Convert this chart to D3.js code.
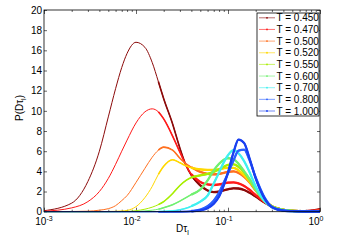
<!DOCTYPE html>
<html>
<head>
<meta charset="utf-8">
<script src="https://cdn.jsdelivr.net/npm/d3@7"></script>
<style>
body{margin:0;background:#fff}
text{font-family:"Liberation Sans",Arial,sans-serif;fill:#000}
</style>
</head>
<body>
<svg id="chart" width="341" height="251"></svg>
<script>
// D tau_l sample positions
const dtau = [0.001,0.002,0.003,0.004,0.005,0.006,0.007,0.008,0.01,0.0125,0.015,0.0175,0.02,0.025,0.03,0.035,0.04,0.05,0.06,0.07,0.08,0.09,0.1,0.115,0.13,0.15,0.17,0.2,0.25,0.3,0.4,0.5,0.7,0.85,1.0]

// P(D tau_l) for each temperature
const t450 = [0.1,0.85,3.0,6.0,9.4,12.2,14.3,15.7,16.8,16.3,14.8,12.9,11.2,8.7,6.3,4.6,3.6,2.6,2.1,1.95,2.0,2.12,2.22,2.32,2.3,2.15,1.9,1.5,0.9,0.5,0.18,0.08,0.05,0.12,0.25]
const t470 = [0.05,0.38,1.0,2.0,3.3,4.7,6.0,7.1,8.8,9.9,10.2,9.9,9.2,7.5,5.9,4.6,3.7,2.95,2.7,2.65,2.7,2.8,2.88,2.9,2.8,2.55,2.2,1.65,0.95,0.5,0.18,0.08,0.05,0.1,0.2]
const t500 = [0,0.02,0.05,0.15,0.3,0.6,1.1,1.6,2.9,4.3,5.4,6.1,6.4,6.1,5.3,4.75,4.4,3.95,3.75,3.7,3.75,3.85,3.95,4.0,3.85,3.45,2.95,2.1,1.1,0.55,0.18,0.08,0.04,0.06,0.1]
const t520 = [0,0,0,0.01,0.02,0.04,0.07,0.13,0.5,1.4,2.5,3.7,4.5,5.15,4.85,4.55,4.35,4.2,4.15,4.15,4.2,4.3,4.35,4.35,4.1,3.6,3.05,2.15,1.1,0.55,0.18,0.08,0.04,0.04,0.05]
const t550 = [0,0,0,0,0,0.01,0.02,0.03,0.1,0.25,0.45,0.7,1.0,1.8,2.6,3.1,3.4,3.6,3.75,3.95,4.2,4.45,4.65,4.7,4.45,3.9,3.2,2.2,1.1,0.55,0.18,0.08,0.04,0.04,0.05]
const t600 = [0,0,0,0,0,0,0,0.01,0.03,0.08,0.15,0.25,0.4,0.7,1.05,1.4,1.7,2.2,3.1,4.1,4.75,5.15,5.3,5.2,4.75,4.0,3.3,2.2,1.05,0.5,0.17,0.07,0.03,0.03,0.03]
const t700 = [0,0,0,0,0,0,0,0,0,0,0.01,0.02,0.03,0.08,0.2,0.35,0.55,1.0,1.6,2.8,3.9,4.9,5.6,6.1,5.8,5.0,4.0,2.5,1.05,0.45,0.14,0.06,0.02,0.02,0.02]
const t800 = [0,0,0,0,0,0,0,0,0,0,0,0,0,0,0.01,0.02,0.05,0.2,0.55,1.1,1.9,2.9,3.8,5.1,6.05,6.15,5.2,3.4,1.4,0.5,0.12,0.05,0.02,0.02,0.02]
const t1000 = [0,0,0,0,0,0,0,0,0,0,0,0,0,0,0,0.01,0.03,0.12,0.35,0.8,1.5,2.6,3.9,5.9,7.15,6.8,5.4,3.3,1.3,0.45,0.1,0.05,0.02,0.02,0.02]

const temps = ["0.450","0.470","0.500","0.520","0.550","0.600","0.700","0.800","1.000"]
const colors = ["#8c0a0a","#ff1a1a","#ff7020","#ffd800","#a8ee00","#70f070","#40f0f0","#2a60ff","#1a40f0"]
const allSeries = [t450,t470,t500,t520,t550,t600,t700,t800,t1000]

const yTicks = [0,2,4,6,8,10,12,14,16,18,20]
const xMajor = [0.001,0.01,0.1,1]
const xExp = ["-3","-2","-1","0"]

const svg = d3.select("#chart")
const dims = {left:44, right:320, top:10, bottom:211.7}

const x = d3.scaleLog().domain([1e-3,1]).range([dims.left,dims.right])
const y = d3.scaleLinear().domain([0,20]).range([dims.bottom,dims.top])

// axes, ticks pointing inward like matlab
svg.append("g").attr("transform",`translate(${dims.left},0)`)
  .call(d3.axisLeft(y).tickValues(yTicks).tickSizeInner(-3).tickSizeOuter(0).tickPadding(2))
  .call(g=>g.select(".domain").remove())
  .call(g=>g.selectAll("text").style("font-size","10px").style("font-family","'Liberation Sans',Arial,sans-serif"))
svg.append("g").attr("transform",`translate(${dims.right},0)`)
  .call(d3.axisRight(y).tickValues(yTicks).tickSizeInner(-3).tickSizeOuter(0).tickFormat(""))
  .call(g=>g.select(".domain").remove())

let minor = x.ticks().filter(v=> !xMajor.some(m=> Math.abs(m-v)<1e-9))
let xAxes = [
  [d3.axisBottom, dims.bottom],
  [d3.axisTop, dims.top]
]
for (let [ax,pos] of xAxes) {
  svg.append("g").attr("transform",`translate(0,${pos})`)
    .call(ax(x).tickValues(xMajor).tickSizeInner(-4).tickSizeOuter(0).tickFormat(""))
    .call(g=>g.select(".domain").remove())
  svg.append("g").attr("transform",`translate(0,${pos})`)
    .call(ax(x).tickValues(minor).tickSizeInner(-2).tickSizeOuter(0).tickFormat(""))
    .call(g=>g.select(".domain").remove())
}
svg.selectAll(".tick line").attr("stroke","#000").attr("stroke-width",0.6)

// x tick labels 10^n
let xl = svg.append("g").selectAll("text").data(xMajor).join("text")
  .attr("x",(d,i)=> x(d) - (i==0 ? 0 : 4))
  .attr("y",225)
  .attr("text-anchor","middle")
  .style("font-size","10px")
xl.append("tspan").text("10")
xl.append("tspan").attr("dy",-4).style("font-size","7px").text((d,i)=>xExp[i])

// curves
let line = d3.line().x(d=>x(d[0])).y(d=>y(d[1])).curve(d3.curveMonotoneX)
let plot = svg.append("g")
allSeries.forEach((vals,i)=>{
  let pts = dtau.map((d,k)=>[d,vals[k]])
  plot.append("path").attr("d",line(pts)).attr("fill","none")
    .attr("stroke",colors[i]).attr("stroke-width",1)
  // data markers get dense at large D tau, so the curve looks thicker there
  plot.append("path").attr("d",line(pts.filter(p=>p[0]>=0.0175))).attr("fill","none")
    .attr("stroke",colors[i]).attr("stroke-width",1.6)
  plot.append("path").attr("d",line(pts.filter(p=>p[0]>=0.04))).attr("fill","none")
    .attr("stroke",colors[i]).attr("stroke-width",2.3)
})

// box
svg.append("rect").attr("x",dims.left).attr("y",dims.top)
  .attr("width",dims.right-dims.left).attr("height",dims.bottom-dims.top)
  .attr("fill","none").attr("stroke","#000").attr("stroke-width",0.8)

// legend
let lg = svg.append("g")
lg.append("rect").attr("x",257).attr("y",13).attr("width",62).attr("height",103)
  .attr("fill","#fff").attr("stroke","#000").attr("stroke-width",0.8)
temps.forEach((t,i)=>{
  let yy = 17.8 + i*11.65
  lg.append("line").attr("x1",259).attr("x2",275).attr("y1",yy).attr("y2",yy)
    .attr("stroke",colors[i]).attr("stroke-width",1).attr("opacity",0.6)
  lg.append("circle").attr("cx",267).attr("cy",yy).attr("r",0.9).attr("fill",colors[i])
  lg.append("text").attr("x",276.5).attr("y",yy+3.6).style("font-size","10px").text(`T = ${t}`)
})

// axis labels
let xlab = svg.append("text").attr("x",176).attr("y",231.7).style("font-size","10px")
xlab.append("tspan").text("Dτ")
xlab.append("tspan").attr("dy",3).style("font-size","7px").text("l")

let ylab = svg.append("text").attr("transform","translate(23,108) rotate(-90)")
  .attr("text-anchor","middle").style("font-size","10px")
ylab.append("tspan").text("P(Dτ")
ylab.append("tspan").attr("dy",3).style("font-size","7px").text("l")
ylab.append("tspan").attr("dy",-3).text(")")
</script>
</body>
</html>
